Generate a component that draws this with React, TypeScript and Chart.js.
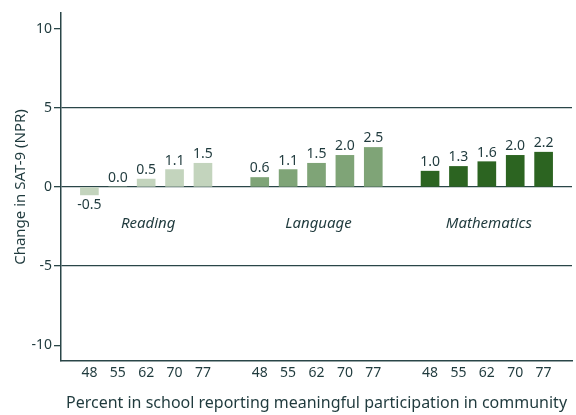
import React, { useEffect, useRef } from "react";
import { Chart, registerables } from "chart.js";

Chart.register(...registerables);

const groups = ["Reading", "Language", "Mathematics"];
const participation = ["48", "55", "62", "70", "77"];
const reading = [-0.5, 0.0, 0.5, 1.1, 1.5];
const language = [0.6, 1.1, 1.5, 2.0, 2.5];
const mathematics = [1.0, 1.3, 1.6, 2.0, 2.2];
const groupColors = ["#c3d4bd", "#7fa477", "#2c6421"];
const yTicks = [-10, -5, 0, 5, 10];

const TEXT = "#1f3a3d";
const LINE = "#2a4648";
const FONT = "'Noto Sans', 'DejaVu Sans', sans-serif";

export default function App() {
  const ref = useRef<HTMLCanvasElement | null>(null);

  useEffect(() => {
    const series = [reading, language, mathematics];
    const labels: string[] = [""];
    const values: (number | null)[] = [null];
    const colors: string[] = ["transparent"];
    const groupMid: { label: string; index: number }[] = [];
    series.forEach((s, g) => {
      s.forEach((v, i) => {
        labels.push(participation[i]);
        values.push(v);
        colors.push(groupColors[g]);
      });
      groupMid.push({ label: groups[g], index: labels.length - 3 });
      labels.push("");
      values.push(null);
      colors.push("transparent");
    });

    const annotations = {
      id: "annotations",
      afterDatasetsDraw(chart: any) {
        const ctx = chart.ctx;
        const meta = chart.getDatasetMeta(0);
        const ys = chart.scales.y;
        const xs = chart.scales.x;
        ctx.save();
        ctx.fillStyle = TEXT;
        ctx.font = `14px ${FONT}`;
        ctx.textAlign = "center";
        meta.data.forEach((el: any, i: number) => {
          const v = values[i];
          if (v === null || v === undefined) return;
          if (v >= 0) {
            ctx.textBaseline = "bottom";
            ctx.fillText(v.toFixed(1), el.x, el.y - 2);
          } else {
            ctx.textBaseline = "top";
            ctx.fillText(v.toFixed(1), el.x, el.y + 3);
          }
        });
        ctx.font = `italic 15px ${FONT}`;
        ctx.textBaseline = "middle";
        groupMid.forEach((g) => {
          ctx.fillText(g.label, xs.getPixelForValue(g.index) + 2, ys.getPixelForValue(-2.3));
        });
        ctx.restore();
      },
    };

    const chart = new Chart(ref.current as HTMLCanvasElement, {
      type: "bar",
      data: {
        labels,
        datasets: [
          {
            data: values,
            backgroundColor: colors,
            barThickness: 18,
          },
        ],
      },
      options: {
        animation: false,
        responsive: false,
        layout: { padding: { top: 13, right: 0, left: 0, bottom: 0 } },
        plugins: { legend: { display: false }, tooltip: { enabled: false } },
        scales: {
          x: {
            offset: false,
            grid: { display: false, drawTicks: false },
            border: { display: true, color: LINE, width: 1.5 },
            ticks: {
              autoSkip: false,
              maxRotation: 0,
              padding: 4,
              color: TEXT,
              font: { family: FONT, size: 14 },
            },
            title: {
              display: true,
              text: "Percent in school reporting meaningful participation in community",
              color: TEXT,
              font: { family: FONT, size: 16 },
              padding: { top: 0, bottom: 2 },
            },
            afterFit: (s: any) => {
              s.height = 54;
            },
          },
          y: {
            min: -11,
            max: 11,
            afterBuildTicks: (s: any) => {
              s.ticks = yTicks.map((v) => ({ value: v }));
            },
            grid: {
              color: (c: any) =>
                c.tick && Math.abs(c.tick.value) < 10 ? LINE : "transparent",
              lineWidth: 1.3,
              tickColor: LINE,
              tickLength: 7,
              drawTicks: true,
            },
            border: { display: true, color: LINE, width: 1.5 },
            ticks: {
              padding: 2,
              color: TEXT,
              font: { family: FONT, size: 14 },
            },
            title: {
              display: true,
              text: "Change in SAT-9 (NPR)",
              color: TEXT,
              font: { family: FONT, size: 15 },
              padding: { top: 12, bottom: 0 },
            },
            afterFit: (s: any) => {
              s.width = 61;
            },
          },
        },
      },
      plugins: [annotations],
    });
    return () => chart.destroy();
  }, []);

  return (
    <div style={{ position: "fixed", left: 0, top: 0, width: 576, height: 415, background: "#fff" }}>
      <canvas ref={ref} width={576} height={415} style={{ display: "block" }} />
    </div>
  );
}
